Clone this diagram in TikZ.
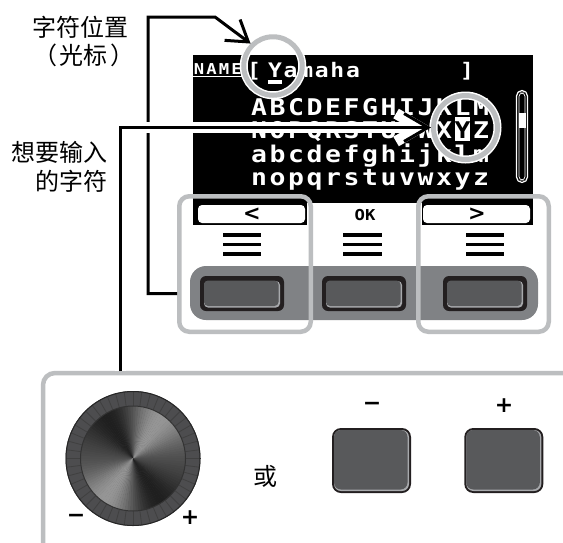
\documentclass[tikz,border=0pt]{standalone}
\usepackage{fontspec}
\newfontfamily\cjk{Noto Sans CJK SC}
\newfontfamily\scrf{DejaVu Sans Mono}[FakeStretch=1.15]
\newfontfamily\symf{DejaVu Sans}
\usetikzlibrary{arrows.meta}
\definecolor{selgray}{HTML}{BCBEC0}
\definecolor{panelgray}{HTML}{808285}
\definecolor{btnface}{HTML}{58595B}
\definecolor{btndark}{HTML}{231F20}
\definecolor{btnhi}{HTML}{A7A9AC}
\definecolor{ringgray}{HTML}{4D4D4F}
\begin{document}
\begin{tikzpicture}[x=1pt,y=-1pt,
 scr/.style={text=white,font=\scrf\bfseries\fontsize{23}{23}\selectfont,anchor=base,inner sep=0},
 scrs/.style={scr,font=\scrf\bfseries\fontsize{20}{20}\selectfont},
 scrn/.style={scr,font=\scrf\bfseries\fontsize{15}{15}\selectfont},
 lbl/.style={font=\cjk\fontsize{24}{24}\selectfont,inner sep=0},
 sel/.style={draw=selgray,line width=4.5,rounded corners=10,inner sep=0},
 ring/.style={circle,draw=selgray,line width=5,inner sep=0,preaction={draw=white,line width=8}},
 conn/.style={draw=black,line width=3},
 ham/.style={line width=3.5,black},
 tbtn/.style={fill=btndark,rounded corners=6,minimum width=84,minimum height=35,inner sep=0},
 bbtn/.style={fill=btndark,rounded corners=9,minimum width=79,minimum height=65,inner sep=0},
 sign/.style={font=\symf\bfseries\fontsize{22}{22}\selectfont,inner sep=0}]
\useasboundingbox (0,0) rectangle (563,542);
\fill[white] (0,0) rectangle (563,542);
\clip (0,0) rectangle (563,542);

% ---- screen ----
\node[fill=black,minimum width=340,minimum height=170,inner sep=0,anchor=north west] (screen) at (193,55) {};
% row 1
\foreach \c/\xx [count=\i] in {N/199,A/211.5,M/224,E/236.5}
  \node[scrn] (nm\i) at (\xx,74) {\c};
\draw[white,line width=1.2] (193,76.5) -- (244,76.5);
\node[scrs] (lbr) at (254,77) {[};
\foreach \c/\xx [count=\i] in {Y/275,a/290.6,m/306.2,a/321.8,h/337.4,a/353}
  \node[scrs] (t1-\i) at (\xx,77) {\c};
\node[scrs] (rbr) at (467,77) {]};
\fill[white] (268,80) rectangle (282,84);
% rows 2-5
\foreach \c [count=\i from 0] in {A,B,C,D,E,F,G,H,I,J,K,L,M}
  \node[scr] (ra\i) at ({259+18.5*\i},115) {\c};
\foreach \c [count=\i from 0] in {N,O,P,Q,R,S,T,U,V,W,X}
  \node[scr] (rb\i) at ({259+18.5*\i},138) {\c};
\node[scr] (rb12) at (481,138) {Z};
\fill[white] (455,117) rectangle (470,141);
\node[scr,text=black] (ysel) at (462.5,138) {Y};
\foreach \c [count=\i from 0] in {a,b,c,d,e,f,g,h,i,j,k,l,m}
  \node[scr] (rc\i) at ({259+18.5*\i},162) {\c};
\foreach \c [count=\i from 0] in {n,o,p,q,r,s,t,u,v,w,x,y,z}
  \node[scr] (rd\i) at ({259+18.5*\i},185) {\c};
% scroll bar
\draw[white,line width=1.2,rounded corners=5.5] (516.5,90.5) rectangle (527.5,182.5);
\draw[white,line width=0.7,rounded corners=3.5] (519,93) rectangle (525,180);
\fill[white] (518.5,113) rectangle (525.5,128);
% soft key strip
\fill[white] (307,203) rectangle (422,226);
\fill[white,rounded corners=4] (198,205) rectangle (305,223);
\fill[white,rounded corners=4] (423,205) rectangle (530,223);
\node[font=\symf\bfseries\fontsize{21}{21}\selectfont,inner sep=0] (kl) at (252,214) {<};
\node[font=\scrf\bfseries\fontsize{15}{15}\selectfont,inner sep=0,anchor=base] (kok) at (365,220) {OK};
\node[font=\symf\bfseries\fontsize{21}{21}\selectfont,inner sep=0] (kr) at (477,214) {>};

% ---- hamburger marks ----
\foreach \xa/\xb in {223/261,343/382,466/504}
  \foreach \yy in {235,244.5,254}
    \draw[ham] (\xa,\yy) -- (\xb,\yy);

% ---- button panel ----
\node[fill=panelgray,rounded corners=16,minimum width=348,minimum height=54,inner sep=0] (panel) at (364,293) {};
\foreach \cx/\nm in {242/btnL,364/btnM,485/btnR}{
  \node[tbtn] (\nm) at (\cx,293.5) {};
  \fill[btnhi,rounded corners=4] ({\cx-38},281) rectangle ({\cx+38},307.5);
  \fill[btnface,rounded corners=4] ({\cx-38},280.5) rectangle ({\cx+36.5},306);
}

% ---- selection frames ----
\node[sel,minimum width=131.5,minimum height=135.5] (selL) at (245,264) {};
\node[sel,minimum width=130.5,minimum height=135.5] (selR) at (483.5,264) {};

% ---- highlight circles ----
\node[ring,minimum size=58.5] (circ1) at (273,66) {};
\node[ring,minimum size=64] (circ2) at (465.5,127.5) {};

% ---- labels ----
\node[lbl,anchor=east] (l1a) at (129,27) {字符位置};
\node[lbl] (l1b) at (84,55) {（\hspace{3pt}光标\hspace{3pt}）};
\node[lbl,anchor=east] (l2a) at (108,152) {想要输入};
\node[lbl,anchor=east] (l2b) at (108,181) {的字符};

% ---- lower box ----
\node[draw=selgray,line width=4.5,rounded corners=12,inner sep=0,anchor=north west,minimum width=600,minimum height=300] (dialbox) at (40.75,370.75) {};

% dial
\begin{scope}[shift={(133,458.5)},y=1pt]
  \fill[ringgray] (0,0) circle (67.5);
  \foreach \a in {0,7.5,...,352.5}
    \draw[black!75,line width=0.8] (\a:52.5) -- (\a:67.5);
  \draw[black!85,line width=1] (0,0) circle (67);
  \foreach \a in {0,3,...,357}{
    \pgfmathsetmacro\cc{cos(\a-45)}
    \pgfmathsetmacro\dd{cos(2*\a+30)}
    \pgfmathsetmacro\g{12+42*\cc*\cc*\cc*\cc+12*\dd*\dd}
    \fill[white!\g!black] (0,0) -- (\a:52.5) arc[start angle=\a,end angle=\a+3.3,radius=52.5] -- cycle;
  }
  \draw[black!80,line width=1] (0,0) circle (52.5);
\end{scope}
\node[sign] (dm) at (76,518) {−};
\node[sign] (dp) at (190,518) {+};
\node[lbl] (or) at (265,476) {或};

% -/+ buttons
\foreach \cx/\nm in {371.5/bm,503.8/bp}{
  \node[bbtn] (\nm) at (\cx,460.5) {};
  \fill[btnhi,rounded corners=7] ({\cx-37.5},430) rectangle ({\cx+37.5},491);
  \fill[btnface,rounded corners=7] ({\cx-37.5},430) rectangle ({\cx+36},489.5);
}
\node[sign] (bml) at (372,406) {−};
\node[sign] (bpl) at (504,406) {+};

% ---- connectors ----
\coordinate (c1a) at (148,17);
\coordinate (c1b) at (215,17);
\draw[conn,-{Straight Barb[length=20pt,width=26pt]}] (selL.west |- btnL) -| (c1a) -- (c1b) -- (circ1.135);
\coordinate (c2s) at (120,371);
\draw[conn,preaction={draw=white,line width=11},-{Straight Barb[length=24pt,width=28pt]}] (c2s) |- (circ2.west);
\end{tikzpicture}
\end{document}
